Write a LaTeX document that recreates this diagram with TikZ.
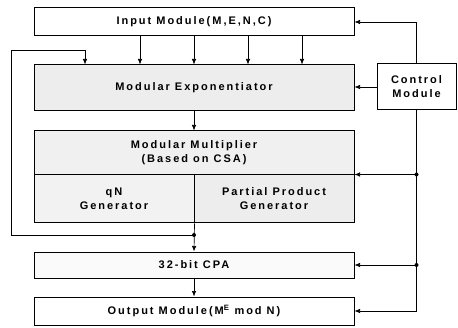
\documentclass[tikz,border=0pt]{standalone}
\usepackage{fontspec}
\setmainfont{Liberation Sans}[LetterSpace=18]
\usetikzlibrary{arrows.meta,positioning}

\begin{document}
\begin{tikzpicture}[x=1pt,y=1pt,>={Latex[length=5.5pt,width=4.5pt]},
    blk/.style={draw,line width=1pt,inner sep=0pt,align=center,font=\fontsize{11}{14}\selectfont\bfseries},
    wire/.style={line width=0.7pt},
    jdot/.style={circle,fill,inner sep=0pt,minimum size=4pt}]
  \useasboundingbox (0,0) rectangle (458,327);
  % main column
  \node[blk,minimum width=320pt,minimum height=28pt] (inp) at (194,305) {Input Module(M,E,N,C)};
  \node[blk,fill=gray!14,minimum width=320pt,minimum height=46pt] (exp) at (194,239) {Modular Exponentiator};
  \node[blk,fill=gray!12,minimum width=320pt,minimum height=44pt] (mtop) at (194,174) {Modular Multiplier\\(Based on CSA)};
  \node[blk,fill=gray!10,minimum width=160pt,minimum height=48pt] (qn) at (114,128) {qN\\Generator};
  \node[blk,fill=gray!14,minimum width=160pt,minimum height=48pt] (pp) at (274,128) {Partial Product\\Generator};
  \node[blk,fill=gray!4,minimum width=320pt,minimum height=26pt] (cpa) at (194,62) {32-bit CPA};
  \node[blk,minimum width=320pt,minimum height=28pt] (out) at (194,16) {Output Module(M\textsuperscript{E} mod N)};
  \node[blk,minimum width=79pt,minimum height=46pt] (ctrl) at (416.5,240) {Control\\Module};
  % data flow
  \foreach \dx in {-54,0,54,108}
    \draw[wire,->] ([xshift=\dx pt]inp.south) -- ([xshift=\dx pt]exp.north);
  \draw[wire,->] (exp.south) -- (mtop.north);
  \coordinate (fb) at (194,92);
  \draw[wire,->] (qn.south east) -- (cpa.north);
  \node[jdot] at (fb) {};
  \draw[wire,->] (fb) -| (11,277) -| ([xshift=-109pt]exp.north);
  \draw[wire,->] (cpa.south) -- (out.north);
  % control lines
  \draw[wire,->] (ctrl.north) |- (inp.east);
  \draw[wire,->] (ctrl.west) -- (ctrl.west -| exp.east);
  \draw[wire,->] (ctrl.south) |- (out.east);
  \coordinate (c1) at (ctrl.south |- pp.north east);
  \coordinate (c2) at (ctrl.south |- cpa.east);
  \node[jdot] at (c1) {};
  \node[jdot] at (c2) {};
  \draw[wire,->] (c1) -- (pp.north east);
  \draw[wire,->] (c2) -- (cpa.east);
\end{tikzpicture}
\end{document}
